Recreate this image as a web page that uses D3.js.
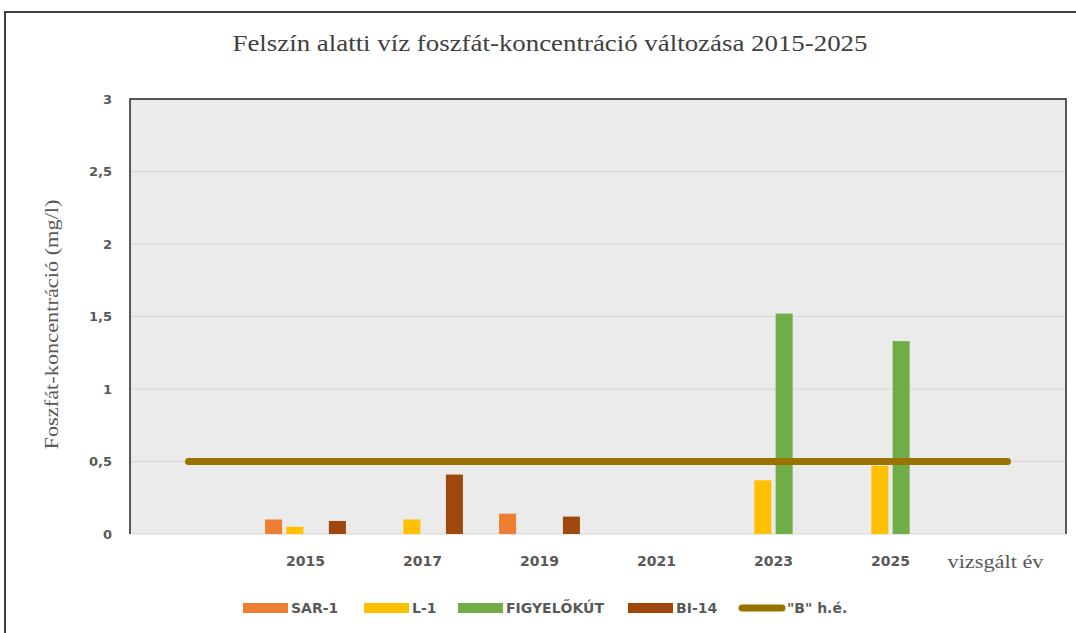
<!DOCTYPE html>
<html>
<head>
<meta charset="utf-8">
<script src="https://cdn.jsdelivr.net/npm/d3@7"></script>
<style>
  body { margin: 0; background: #fff; }
</style>
</head>
<body>
<svg id="chart"></svg>
<script>
// categories on the x axis (first slot is empty, last one holds the axis title)
const years = ["", "2015", "2017", "2019", "2021", "2023", "2025", "vizsgált év"];
const seriesNames = ["SAR-1", "L-1", "FIGYELŐKÚT", "BI-14"];
const seriesColors = ["#ED7D31", "#FFC000", "#70AD47", "#9E480E"];

// values per series, aligned with years (null = no bar)
const sar1 = [null, 0.10, null, 0.14, null, null, null, null];
const l1 = [null, 0.05, 0.10, null, null, 0.37, 0.47, null];
const figyelokut = [null, null, null, null, null, 1.52, 1.33, null];
const bi14 = [null, 0.09, 0.41, 0.12, null, null, null, null];

// "B" limit value
const limitName = "\"B\" h.é.";
const limitValue = [0.5, 0.5, 0.5, 0.5, 0.5, 0.5, 0.5, 0.5];
const limitColor = "#997300";

const yTicks = [0, 0.5, 1, 1.5, 2, 2.5, 3];

const width = 1076, height = 633;
const margin = { top: 99, right: 10, bottom: 99, left: 130 };
const tickFont = "bold 14px 'DejaVu Sans', sans-serif";

const svg = d3.select("#chart")
  .attr("width", width)
  .attr("height", height)
  .attr("viewBox", [0, 0, width, height]);

// outer chart frame
svg.append("rect")
  .attr("x", 5).attr("y", 12)
  .attr("width", width + 20).attr("height", height + 20)
  .attr("fill", "#fff")
  .attr("stroke", "#404040")
  .attr("stroke-width", 2);

const x = d3.scaleBand()
  .domain(years)
  .range([margin.left, width - margin.right]);

const xInner = d3.scaleBand()
  .domain(seriesNames)
  .range([0, x.bandwidth()])
  .paddingInner(0.2)
  .paddingOuter(0.85);

const y = d3.scaleLinear()
  .domain([0, 3])
  .range([height - margin.bottom, margin.top]);

// plot background
svg.append("rect")
  .attr("x", x.range()[0])
  .attr("y", y(3))
  .attr("width", x.range()[1] - x.range()[0])
  .attr("height", y(0) - y(3))
  .attr("fill", "#ebebeb");

// gridlines
svg.append("g")
  .selectAll("line")
  .data(yTicks)
  .join("line")
  .attr("x1", x.range()[0])
  .attr("x2", x.range()[1])
  .attr("y1", d => y(d))
  .attr("y2", d => y(d))
  .attr("stroke", "#d6d6d6")
  .attr("stroke-width", 1);

// plot frame (left, top, right)
svg.append("path")
  .attr("d", `M${x.range()[0]},${y(0)}V${y(3)}H${x.range()[1]}V${y(0)}`)
  .attr("fill", "none")
  .attr("stroke", "#262626")
  .attr("stroke-width", 1.5);

// y axis
const yAxis = svg.append("g")
  .attr("transform", `translate(${margin.left - 18},0)`)
  .call(d3.axisLeft(y).tickValues(yTicks).tickSize(0).tickFormat(d => String(d).replace(".", ",")));
yAxis.select(".domain").remove();
yAxis.selectAll("text")
  .attr("x", 0)
  .attr("fill", "#595959")
  .style("font", "bold 13px 'DejaVu Sans', sans-serif");

// x axis labels
const xAxis = svg.append("g")
  .attr("transform", `translate(0,${y(0) + 27})`)
  .call(d3.axisBottom(x).tickValues(years.slice(1, -1)).tickSize(0));
xAxis.select(".domain").remove();
xAxis.selectAll("text")
  .attr("y", 0)
  .attr("dy", "0.35em")
  .attr("fill", "#595959")
  .style("font", tickFont);

svg.append("text")
  .attr("x", x("vizsgált év") + x.bandwidth() / 2 - 12)
  .attr("y", y(0) + 27)
  .attr("dy", "0.35em")
  .attr("text-anchor", "middle")
  .attr("fill", "#595959")
  .attr("textLength", 96)
  .attr("lengthAdjust", "spacingAndGlyphs")
  .style("font", "19px 'Liberation Serif', serif")
  .text("vizsgált év");

// bars
const seriesValues = [sar1, l1, figyelokut, bi14];
const barData = [];
seriesNames.forEach((name, i) => {
  seriesValues[i].forEach((v, j) => {
    if (v != null) barData.push({ name, year: years[j], value: v, color: seriesColors[i] });
  });
});

svg.append("g")
  .selectAll("rect")
  .data(barData)
  .join("rect")
  .attr("x", d => x(d.year) + xInner(d.name))
  .attr("y", d => y(d.value))
  .attr("width", xInner.bandwidth())
  .attr("height", d => y(0) - y(d.value))
  .attr("fill", d => d.color);

// limit line
const line = d3.line()
  .x((d, i) => x(years[i]) + x.bandwidth() / 2)
  .y(d => y(d));

svg.append("path")
  .attr("d", line(limitValue))
  .attr("fill", "none")
  .attr("stroke", limitColor)
  .attr("stroke-width", 7)
  .attr("stroke-linecap", "round");

// title
svg.append("text")
  .attr("x", 550)
  .attr("y", 51)
  .attr("text-anchor", "middle")
  .attr("fill", "#404040")
  .attr("textLength", 635)
  .attr("lengthAdjust", "spacingAndGlyphs")
  .style("font", "24px 'Liberation Serif', serif")
  .text("Felszín alatti víz foszfát-koncentráció változása 2015-2025");

// y axis title
svg.append("text")
  .attr("transform", `translate(52,${(y(0) + y(3)) / 2 + 8}) rotate(-90)`)
  .attr("text-anchor", "middle")
  .attr("dy", "0.35em")
  .attr("fill", "#595959")
  .attr("textLength", 250)
  .attr("lengthAdjust", "spacingAndGlyphs")
  .style("font", "18px 'Liberation Serif', serif")
  .text("Foszfát-koncentráció (mg/l)");

// legend
const legendItems = seriesNames.map((n, i) => ({ name: n, color: seriesColors[i], type: "bar" }))
  .concat([{ name: limitName, color: limitColor, type: "line" }]);
const legendX = [243, 364, 458, 628, 739];
const legendY = 608;

const legend = svg.append("g")
  .selectAll("g")
  .data(legendItems)
  .join("g")
  .attr("transform", (d, i) => `translate(${legendX[i]},${legendY})`);

legend.filter(d => d.type === "bar")
  .append("rect")
  .attr("x", 0).attr("y", -5)
  .attr("width", 45).attr("height", 10)
  .attr("fill", d => d.color);

legend.filter(d => d.type === "line")
  .append("line")
  .attr("x1", 3).attr("x2", 43)
  .attr("y1", 0).attr("y2", 0)
  .attr("stroke", d => d.color)
  .attr("stroke-width", 7)
  .attr("stroke-linecap", "round");

legend.append("text")
  .attr("x", 48)
  .attr("dy", "0.35em")
  .attr("fill", "#595959")
  .style("font", tickFont)
  .text(d => d.name);
</script>
</body>
</html>
